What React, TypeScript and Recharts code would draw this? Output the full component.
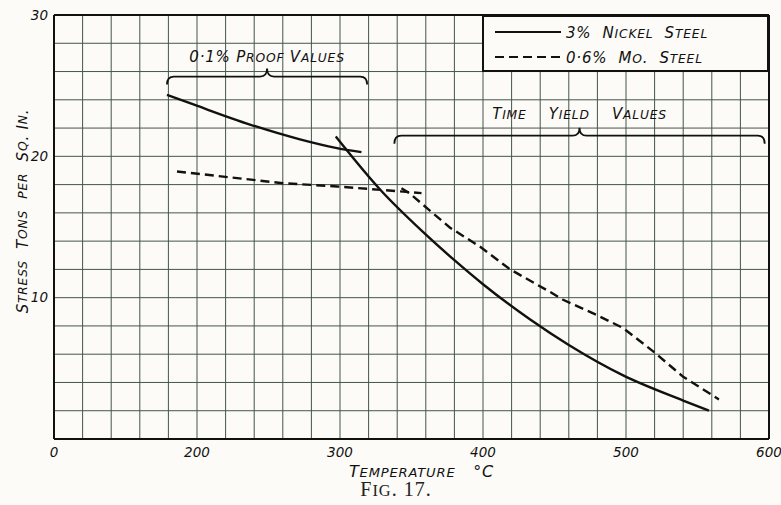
import { CartesianGrid, Legend, Line, LineChart, ReferenceLine, XAxis, YAxis } from 'recharts'

// temperature (deg C) / stress (tons per sq. in.)
const nickelProofTemp = [179, 198, 237, 272, 297, 315]
const nickelProofStress = [24.35, 23.65, 22.25, 21.2, 20.6, 20.3]
const nickelYieldTemp = [297, 328, 358, 380, 400, 433, 460, 498, 540, 558]
const nickelYieldStress = [21.4, 17.65, 14.65, 12.65, 10.95, 8.45, 6.65, 4.5, 2.72, 2.0]
const moProofTemp = [186, 260, 298, 357]
const moProofStress = [18.93, 18.1, 17.87, 17.4]
const moYieldTemp = [343, 349, 377, 398, 419, 447, 456, 479, 498, 519, 540, 565]
const moYieldStress = [17.75, 17.35, 14.95, 13.6, 12.0, 10.4, 9.85, 8.8, 7.85, 6.2, 4.4, 2.8]

const xTicks = [100, 120, 140, 160, 180, 200, 220, 240, 260, 280, 300, 320, 340, 360, 380, 400, 420, 440, 460, 480, 500, 520, 540, 560, 580, 600]
const yTicks = [0, 2, 4, 6, 8, 10, 12, 14, 16, 18, 20, 22, 24, 26, 28, 30]
const xLabels: Record<number, string> = { 100: '0', 200: '200', 300: '300', 400: '400', 500: '500', 600: '600' }
const yLabels: Record<number, string> = { 10: '10', 20: '20', 30: '30' }
const legendNames = ['3% Nickel Steel', '0·6% Mo. Steel']

const zip = (t: number[], s: number[]) => t.map((v, i) => ({ t: v, s: s[i] }))
const nickelProof = zip(nickelProofTemp, nickelProofStress)
const nickelYield = zip(nickelYieldTemp, nickelYieldStress)
const moProof = zip(moProofTemp, moProofStress)
const moYield = zip(moYieldTemp, moYieldStress)

const paper = '#fcfbf7'
const ink = '#111'
const gridColor = '#45564a'
const letterFont = '"DejaVu Sans", sans-serif'
const DASH = '9 5'

// hand-lettered small caps: lower case letters drawn as smaller capitals
const runs = (text: string) => {
  const out: { small: boolean; s: string }[] = []
  for (const ch of text) {
    const small = ch !== ch.toUpperCase()
    const last = out[out.length - 1]
    if (last && last.small === small) last.s += ch.toUpperCase()
    else out.push({ small, s: ch.toUpperCase() })
  }
  return out
}
const SvgCaps = ({ text, size }: { text: string; size: number }) => (
  <>
    {runs(text).map((r, i) => (
      <tspan key={i} fontSize={r.small ? size * 0.82 : size}>{r.s}</tspan>
    ))}
  </>
)
const HtmlCaps = ({ text, size }: { text: string; size: number }) => (
  <>
    {runs(text).map((r, i) => (
      <span key={i} style={{ fontSize: r.small ? size * 0.82 : size }}>{r.s}</span>
    ))}
  </>
)

const letterProps = { fontFamily: letterFont, fontStyle: 'italic', fill: ink, letterSpacing: 0.8, style: { whiteSpace: 'pre' } } as const

const Brace = (props: any) => {
  const { x1, x2, y1, text, textGap } = props
  const cx = (x1 + x2) / 2
  const y = y1
  const d = `M${x1} ${y + 8} Q${x1} ${y} ${x1 + 7} ${y} L${cx - 7} ${y} Q${cx} ${y} ${cx} ${y - 8} Q${cx} ${y} ${cx + 7} ${y} L${x2 - 7} ${y} Q${x2} ${y} ${x2} ${y + 8}`
  return (
    <g>
      <path d={d} fill="none" stroke={ink} strokeWidth={1.8} />
      <text x={cx} y={y - textGap} textAnchor="middle" {...letterProps}>
        <SvgCaps text={text} size={15} />
      </text>
    </g>
  )
}

const LegendBox = ({ payload }: any) => {
  const items = legendNames.map((n) => (payload || []).find((e: any) => e.value === n)).filter(Boolean)
  return (
    <div style={{ width: 287, height: 57, boxSizing: 'border-box', border: `2px solid ${ink}`, background: paper, position: 'relative' }}>
      {items.map((entry: any, i: number) => (
        <div key={entry.value} style={{ position: 'absolute', left: 11, top: 5 + i * 25, height: 20, display: 'flex', alignItems: 'center', whiteSpace: 'pre' }}>
          <svg width={66} height={20}>
            <line x1={0} y1={10} x2={66} y2={10} stroke={ink} strokeWidth={2} strokeDasharray={entry.payload?.strokeDasharray} />
          </svg>
          <span style={{ fontFamily: letterFont, fontStyle: 'italic', color: ink, marginLeft: 5, letterSpacing: 0.8 }}>
            <HtmlCaps text={entry.value.replace(/ /g, '  ')} size={15} />
          </span>
        </div>
      ))}
    </div>
  )
}

export default function App() {
  return (
    <div style={{ position: 'absolute', left: 0, top: 0, width: 781, height: 505, background: paper }}>
      <LineChart width={781} height={505} margin={{ top: 15, right: 12, left: 0, bottom: 0 }}>
        <CartesianGrid stroke={gridColor} strokeWidth={1} />
        <XAxis
          type="number"
          dataKey="t"
          domain={[100, 600]}
          ticks={xTicks}
          interval={0}
          height={66}
          tickLine={false}
          tickSize={0}
          tickMargin={8}
          axisLine={{ stroke: ink, strokeWidth: 2 }}
          tick={{ fontSize: 13.5, fontStyle: 'italic', fontFamily: letterFont, fill: ink }}
          tickFormatter={(v: number) => xLabels[v] ?? ''}
          label={({ viewBox }: any) => (
            <text x={viewBox.x + viewBox.width / 2 + 10} y={viewBox.y + 38} textAnchor="middle" {...letterProps}>
              <SvgCaps text={'Temperature   °C'} size={16} />
            </text>
          )}
        />
        <YAxis
          type="number"
          domain={[0, 30]}
          ticks={yTicks}
          interval={0}
          width={54}
          tickLine={false}
          tickSize={0}
          tickMargin={6}
          axisLine={{ stroke: ink, strokeWidth: 2 }}
          tick={{ fontSize: 13.5, fontStyle: 'italic', fontFamily: letterFont, fill: ink }}
          tickFormatter={(v: number) => yLabels[v] ?? ''}
          label={() => (
            <text x={23} y={211} transform="rotate(-90 23 211)" textAnchor="middle" dominantBaseline="central" {...letterProps}>
              <SvgCaps text={'Stress  Tons  per  Sq. In.'} size={15} />
            </text>
          )}
        />
        <ReferenceLine y={30} stroke={ink} strokeWidth={2} />
        <ReferenceLine x={600} stroke={ink} strokeWidth={2} />
        <ReferenceLine
          segment={[{ x: 179, y: 25.64 }, { x: 319, y: 25.64 }]}
          shape={(p: any) => <Brace {...p} text="0·1% Proof Values" textGap={15} />}
        />
        <ReferenceLine
          segment={[{ x: 338, y: 21.46 }, { x: 597, y: 21.46 }]}
          shape={(p: any) => <Brace {...p} text="Time    Yield    Values" textGap={17} />}
        />
        <Line data={nickelProof} dataKey="s" name="3% Nickel Steel" type="monotone" stroke={ink} strokeWidth={2.4} dot={false} isAnimationActive={false} />
        <Line data={nickelYield} dataKey="s" name="nickel-yield" legendType="none" type="monotone" stroke={ink} strokeWidth={2.4} dot={false} isAnimationActive={false} />
        <Line data={moProof} dataKey="s" name="0·6% Mo. Steel" type="linear" stroke={ink} strokeWidth={2.4} strokeDasharray={DASH} dot={false} isAnimationActive={false} />
        <Line data={moYield} dataKey="s" name="mo-yield" legendType="none" type="linear" stroke={ink} strokeWidth={2.4} strokeDasharray={DASH} dot={false} isAnimationActive={false} />
        <Legend
          layout="vertical"
          align="center"
          verticalAlign="middle"
          content={LegendBox}
          wrapperStyle={{ position: 'absolute', left: 482, top: 15, width: 287, height: 57 }}
        />
      </LineChart>
      <div style={{ position: 'absolute', left: 0, width: 792, top: 478, textAlign: 'center', fontFamily: '"Liberation Serif", serif', color: '#222', letterSpacing: 1 }}>
        <HtmlCaps text="Fig. 17." size={20} />
      </div>
    </div>
  )
}
